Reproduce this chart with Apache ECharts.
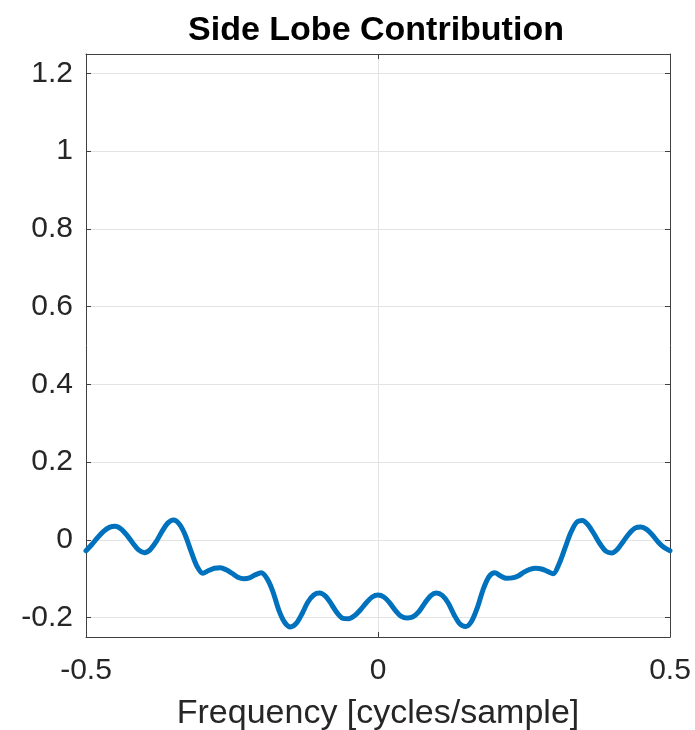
<!DOCTYPE html>
<html>
<head>
<meta charset="utf-8">
<title>Side Lobe Contribution</title>
<script src="https://cdn.jsdelivr.net/npm/echarts@6/dist/echarts.min.js"></script>
<style>
  html, body { margin: 0; padding: 0; background: #ffffff; }
  #chart { width: 695px; height: 730px; }
</style>
</head>
<body>
<div id="chart"></div>
<script>
// Normalised frequency samples (cycles/sample)
var freq = [
  -0.50, -0.49, -0.48, -0.47, -0.46, -0.45, -0.44, -0.43, -0.42, -0.41,
  -0.40, -0.39, -0.38, -0.37, -0.36, -0.35, -0.34, -0.33, -0.32, -0.31,
  -0.30, -0.29, -0.28, -0.27, -0.26, -0.25, -0.24, -0.23, -0.22, -0.21,
  -0.20, -0.19, -0.18, -0.17, -0.16, -0.15, -0.14, -0.13, -0.12, -0.11,
  -0.10, -0.09, -0.08, -0.07, -0.06, -0.05, -0.04, -0.03, -0.02, -0.01,
   0.00,
   0.01,  0.02,  0.03,  0.04,  0.05,  0.06,  0.07,  0.08,  0.09,  0.10,
   0.11,  0.12,  0.13,  0.14,  0.15,  0.16,  0.17,  0.18,  0.19,  0.20,
   0.21,  0.22,  0.23,  0.24,  0.25,  0.26,  0.27,  0.28,  0.29,  0.30,
   0.31,  0.32,  0.33,  0.34,  0.35,  0.36,  0.37,  0.38,  0.39,  0.40,
   0.41,  0.42,  0.43,  0.44,  0.45,  0.46,  0.47,  0.48,  0.49,  0.50
];

// Side lobe contribution at each frequency
var sideLobe = [
  -0.028, -0.012,  0.006,  0.022,  0.032,  0.035,  0.028,  0.012, -0.008, -0.026,
  -0.033, -0.025, -0.005,  0.021,  0.043,  0.051,  0.040,  0.012, -0.030, -0.068,
  -0.086, -0.079, -0.073, -0.072, -0.077, -0.086, -0.096, -0.100, -0.098, -0.090,
  -0.085, -0.100, -0.133, -0.180, -0.212, -0.224, -0.215, -0.190, -0.160, -0.142,
  -0.137, -0.145, -0.165, -0.188, -0.202, -0.203, -0.195, -0.180, -0.162, -0.147,
  -0.142,
  -0.147, -0.162, -0.182, -0.197, -0.201, -0.198, -0.185, -0.163, -0.144, -0.137,
  -0.143, -0.162, -0.192, -0.216, -0.223, -0.210, -0.175, -0.128, -0.095, -0.085,
  -0.093, -0.099, -0.098, -0.093, -0.083, -0.076, -0.073, -0.075, -0.081, -0.087,
  -0.062, -0.022,  0.018,  0.045,  0.050,  0.038,  0.015, -0.010, -0.029, -0.034,
  -0.024, -0.004,  0.016,  0.030,  0.033,  0.027,  0.012, -0.006, -0.020, -0.028
];

// Axis ticks
var xTicks = [-0.5, 0, 0.5];
var yTicks = [-0.2, 0, 0.2, 0.4, 0.6, 0.8, 1, 1.2];

var FONT = 'Helvetica, Arial, "Liberation Sans", sans-serif';
var AXIS_COLOR = '#404040';
var TEXT_COLOR = '#262626';
var GRID_COLOR = '#e3e3e3';

var points = freq.map(function (f, i) { return [f, sideLobe[i]]; });

function xAxisCfg(pos, main) {
  return {
    type: 'value',
    position: pos,
    min: -0.5,
    max: 0.5,
    interval: 0.5,
    axisLine: { show: true, onZero: false, lineStyle: { color: AXIS_COLOR, width: 1 } },
    axisTick: { show: true, inside: true, length: 5, lineStyle: { color: AXIS_COLOR } },
    axisLabel: {
      show: main,
      margin: 19,
      color: TEXT_COLOR,
      fontFamily: FONT,
      fontSize: 30,
      customValues: xTicks,
      formatter: function (v) { return String(v); }
    },
    splitLine: { show: main, lineStyle: { color: GRID_COLOR, width: 1 } },
    name: main ? 'Frequency [cycles/sample]' : '',
    nameLocation: 'middle',
    nameGap: 60,
    nameTextStyle: { color: TEXT_COLOR, fontFamily: FONT, fontSize: 34 }
  };
}

function yAxisCfg(pos, main) {
  return {
    type: 'value',
    position: pos,
    min: -0.25,
    max: 1.25,
    axisLine: { show: true, onZero: false, lineStyle: { color: AXIS_COLOR, width: 1 } },
    axisTick: { show: true, inside: true, length: 5, customValues: yTicks, lineStyle: { color: AXIS_COLOR } },
    axisLabel: {
      show: main,
      margin: 13,
      color: TEXT_COLOR,
      fontFamily: FONT,
      fontSize: 30,
      customValues: yTicks,
      formatter: function (v) { return String(Math.round(v * 10) / 10); }
    },
    splitLine: { show: main, lineStyle: { color: GRID_COLOR, width: 1 } }
  };
}

var chart = echarts.init(document.getElementById('chart'), null, { renderer: 'canvas' });
chart.setOption({
  animation: false,
  backgroundColor: '#ffffff',
  title: {
    text: 'Side Lobe Contribution',
    left: 371,
    top: 9,
    textAlign: 'center',
    textStyle: { color: '#000000', fontFamily: FONT, fontSize: 34, fontWeight: 'bold' }
  },
  grid: { left: 86, right: 25, top: 54, bottom: 93, containLabel: false, outerBoundsMode: 'none' },
  xAxis: [xAxisCfg('bottom', true), xAxisCfg('top', false)],
  yAxis: [yAxisCfg('left', true), yAxisCfg('right', false)],
  series: [{
    type: 'line',
    xAxisIndex: 0,
    yAxisIndex: 0,
    data: points,
    smooth: 0.3,
    showSymbol: false,
    clip: true,
    lineStyle: { color: '#0072BD', width: 5, cap: 'round', join: 'round' }
  }]
});
</script>
</body>
</html>
